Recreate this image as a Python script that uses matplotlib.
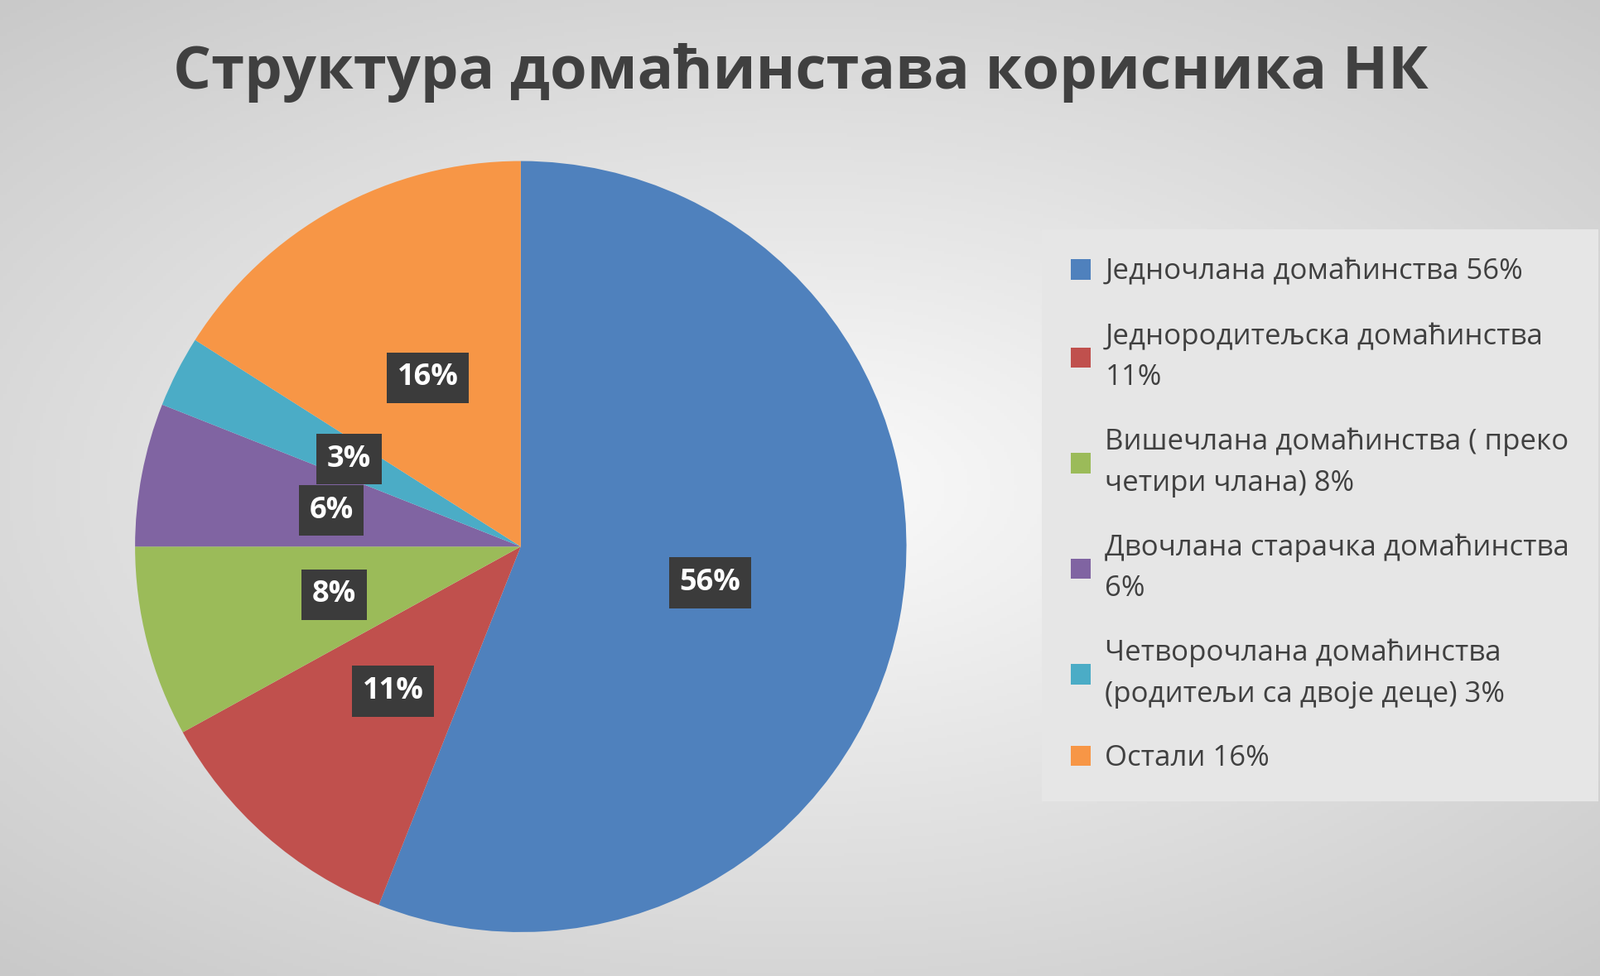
import numpy as np
import matplotlib
matplotlib.use("Agg")
import matplotlib.pyplot as plt

title = "Структура домаћинстава корисника НК"
categories = ["Једночлана домаћинства 56%",
              "Једнородитељска домаћинства\n11%",
              "Вишечлана домаћинства ( преко\nчетири члана) 8%",
              "Двочлана старачка домаћинства\n6%",
              "Четворочлана домаћинства\n(родитељи са двоје деце) 3%",
              "Остали 16%"]
values = [56, 11, 8, 6, 3, 16]
colors = ["#4f81bd", "#c0504d", "#9bbb59", "#8064a2", "#4bacc6", "#f79646"]

plt.rcParams["font.family"] = "Open Sans"
fig = plt.figure(figsize=(19.33, 11.79), dpi=100)

# radial gradient background
bg = fig.add_axes([0, 0, 1, 1])
yy, xx = np.mgrid[-1:1:300j, -1:1:480j]
r = np.sqrt((xx * 0.9) ** 2 + yy ** 2)
bg.imshow(r, cmap=matplotlib.colors.LinearSegmentedColormap.from_list("g", ["#fbfbfb", "#c9c9c9"]),
          extent=[0, 1, 0, 1], aspect="auto", vmin=0, vmax=1.35)
bg.axis("off")

ax = fig.add_axes([0.0843, 0.045, 0.482, 0.79])
wedges, texts, autotexts = ax.pie(values, colors=colors, startangle=90, counterclock=False,
                                  autopct="%d%%", pctdistance=0.5,
                                  wedgeprops=dict(linewidth=0))
for t in autotexts:
    t.set_color("white")
    t.set_fontsize(26)
    t.set_fontweight("bold")
    t.set_bbox(dict(boxstyle="square,pad=0.35", fc="#3b3b3b", ec="none"))
ax.set_xlim(-1, 1)
ax.set_ylim(-1, 1)
ax.set_aspect("equal")
ax.axis("off")

fig.text(0.5, 0.925, title, ha="center", va="center", fontsize=52,
         fontweight="bold", color="#404040")

leg = fig.legend(wedges, categories, loc="upper left",
                 bbox_to_anchor=(1258 / 1933, 1 - 277 / 1179),
                 fontsize=25, frameon=True, fancybox=False, handlelength=0.7,
                 handleheight=0.7, handletextpad=0.5, labelspacing=1.25,
                 borderpad=1.0, borderaxespad=0)
leg.get_frame().set_facecolor("#e6e6e6")
leg.get_frame().set_edgecolor("none")
leg.get_frame().set_alpha(1)
for t in leg.get_texts():
    t.set_color("#404040")
    t.set_linespacing(1.6)

fig.savefig("out.png", dpi=100)
